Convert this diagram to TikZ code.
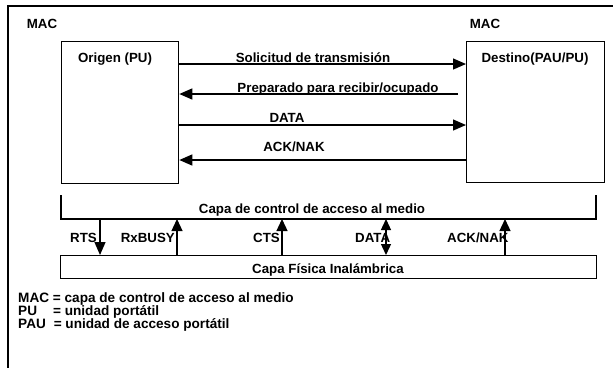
\documentclass[tikz,border=0pt]{standalone}
\usepackage{fontspec}
\setmainfont{Liberation Sans}
\usetikzlibrary{arrows.meta}
\tikzset{
  sig/.style={line width=1.3pt,-{Triangle[length=13pt,width=11pt]}},
  sigup/.style={line width=1.3pt,{Triangle[length=12pt,width=11pt]}-},
  sigboth/.style={line width=1.3pt,{Triangle[length=11pt,width=10pt]}-{Triangle[length=11pt,width=10pt]}},
  unit/.style={draw,line width=1.3pt,anchor=north west,inner sep=0pt},
  txt/.style={anchor=base,inner sep=0pt,font=\bfseries\fontsize{13.3}{12}\selectfont},
}
\newcommand{\unitbox}[5]{% name, x, y, w, h
\node[unit,minimum width=#4pt,minimum height=#5pt] (#1) at (#2,#3) {};
}
\newcommand{\vsig}[3][sig]{% style, name, x
\coordinate (#2) at (#3,0);
\draw[#1] (capaL -| #2) -- (fisica.north -| #2);
}

\begin{document}
\begin{tikzpicture}[x=1pt,y=-1pt]
\useasboundingbox (0,0) rectangle (613,368);

% marco
\draw[line width=1.3pt] (613,6) -- (8,6) -- (8,368);
\node[txt] (macL) at (42,28) {MAC};
\node[txt] (macR) at (485,28) {MAC};

% estaciones
\unitbox{origen}{61}{41}{117}{142}
\unitbox{destino}{466}{41}{138}{141}
\node[txt] (origenlbl) at (115,62) {Origen (PU)};
\node[txt] (destinolbl) at (535,62) {Destino(PAU/PU)};

\coordinate (r1) at (0,64);
\coordinate (prepEnd) at (458,94);
\coordinate (r3) at (0,125);
\coordinate (r4) at (0,160);

\draw[sig] (origen.east |- r1) -- (destino.west |- r1);
\draw[sig] (prepEnd) -- (origen.east |- prepEnd);
\draw[sig] (origen.east |- r3) -- (destino.west |- r3);
\draw[sig] (destino.west |- r4) -- (origen.east |- r4);

\node[txt] (solicitud) at (313,62) {Solicitud de transmisión};
\node[txt] (preparado) at (338,92) {Preparado para recibir/ocupado};
\node[txt] (data) at (287,122) {DATA};
\node[txt] (acknak) at (294,151) {ACK/NAK};

% capa MAC
\coordinate (capaL) at (61,219);
\coordinate (capaR) at (596,219);
\draw[line width=1.3pt] (capaL) ++(0,-24) -- (capaL) -- (capaR) -- ++(0,-24);
\node[txt] (capa) at (312,213) {Capa de control de acceso al medio};

% capa fisica
\unitbox{fisica}{60}{255}{536}{23}
\node[txt] (fisicalbl) at (328,273) {Capa Física Inalámbrica};

\vsig{vRTS}{100}
\vsig[sigup]{vRxBUSY}{177}
\vsig[sigup]{vCTS}{282}
\vsig[sigboth]{vDATA}{386}
\vsig[sigup]{vACK}{505}

\node[txt,anchor=base east] (rts) at (97,242) {RTS};
\node[txt,anchor=base east] (rxbusy) at (175,242) {RxBUSY};
\node[txt,anchor=base east] (cts) at (280,242) {CTS};
\node[txt,anchor=base west] (datav) at (355,242) {DATA};
\node[txt,anchor=base west] (ackv) at (447,242) {ACK/NAK};

% leyenda
\node[txt,anchor=base west,font=\bfseries\fontsize{13.6}{13}\selectfont] (legMAC) at (18,302) {MAC = capa de control de acceso al medio};
\node[txt,anchor=base west,font=\bfseries\fontsize{13.6}{13}\selectfont] (legPU) at (18,315) {PU\hspace{0.9em} = unidad portátil};
\node[txt,anchor=base west,font=\bfseries\fontsize{13.6}{13}\selectfont] (legPAU) at (18,328) {PAU\hspace{0.3em} = unidad de acceso portátil};
\end{tikzpicture}
\end{document}
